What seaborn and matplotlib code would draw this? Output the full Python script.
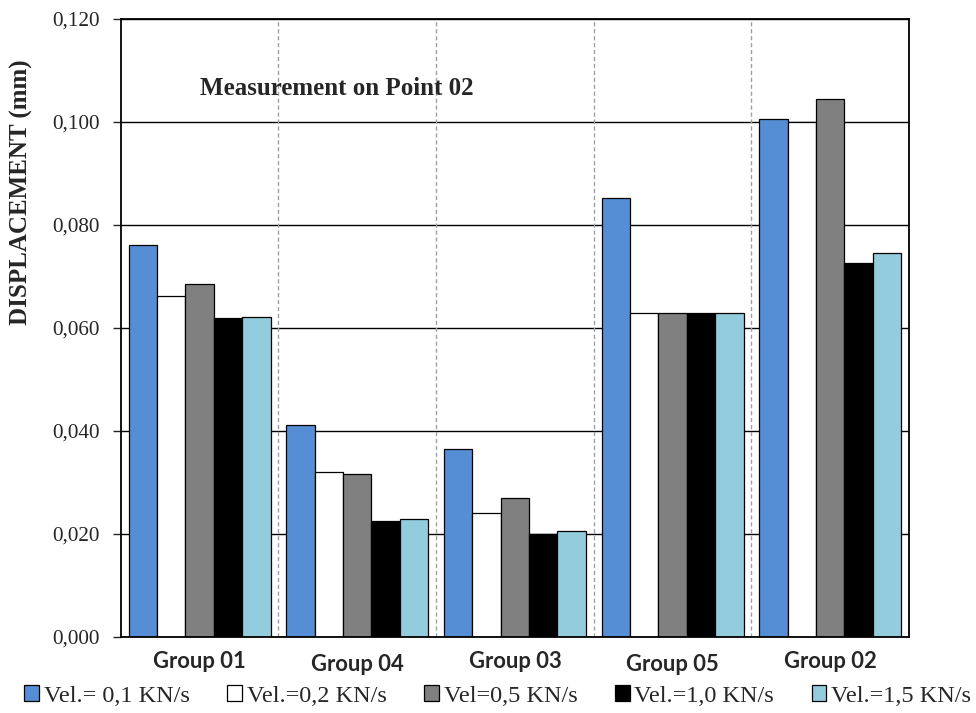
import pandas as pd
import matplotlib
matplotlib.use("Agg")
import matplotlib.pyplot as plt
from matplotlib.ticker import FuncFormatter, MultipleLocator
import seaborn as sns

# data
groups = ["Group 01", "Group 04", "Group 03", "Group 05", "Group 02"]
velocities = ["Vel.= 0,1 KN/s", "Vel.=0,2 KN/s", "Vel=0,5 KN/s", "Vel.=1,0 KN/s", "Vel.=1,5 KN/s"]
vel_01 = [0.0761, 0.0412, 0.0365, 0.0852, 0.1006]
vel_02 = [0.0663, 0.0321, 0.0240, 0.0630, 0.1000]
vel_05 = [0.0685, 0.0316, 0.0270, 0.0630, 0.1045]
vel_10 = [0.0620, 0.0225, 0.0200, 0.0630, 0.0727]
vel_15 = [0.0621, 0.0230, 0.0205, 0.0630, 0.0745]
colors = ["#558ED5", "#FFFFFF", "#808080", "#000000", "#93CDDD"]

rows = []
for vel, vals in zip(velocities, [vel_01, vel_02, vel_05, vel_10, vel_15]):
    for g, v in zip(groups, vals):
        rows.append({"Group": g, "Velocity": vel, "Displacement": v})
df = pd.DataFrame(rows)

sns.set_style("white")
plt.rcParams["font.family"] = ["Liberation Serif", "DejaVu Serif"]

fig = plt.figure(figsize=(9.76, 7.13), dpi=100)
ax = fig.add_axes([0.1237, 0.1066, 0.8077, 0.8668])

sns.barplot(data=df, x="Group", y="Displacement", hue="Velocity", order=groups,
            hue_order=velocities, palette=colors, saturation=1, width=0.9,
            edgecolor="black", linewidth=0.9, ax=ax, legend=False)

ax.set_xlim(-0.5, 4.5)
ax.set_ylim(0, 0.12)
ax.yaxis.set_major_locator(MultipleLocator(0.02))
ax.yaxis.set_major_formatter(FuncFormatter(lambda v, p: f"{v:.3f}".replace(".", ",")))

# gridlines
ax.set_axisbelow(True)
ax.yaxis.grid(True, color="black", linewidth=1.0)
for xv in [0.5, 1.5, 2.5, 3.5]:
    ax.axvline(xv, color="#A0A0A0", linestyle=(0, (3, 2)), linewidth=1.0, zorder=0.7)

for s in ax.spines.values():
    s.set_color("black")
    s.set_linewidth(1.3)

ax.tick_params(axis="y", direction="out", length=6, width=1, pad=9, labelsize=15.3, left=True)
ax.tick_params(axis="x", length=0, labelsize=15.8)
for i, t in enumerate(ax.xaxis.get_major_ticks()):
    t.set_pad(10 if i % 2 == 0 else 12.5)
for lab in ax.get_xticklabels():
    lab.set_fontfamily(["Lato", "DejaVu Sans"])
    lab.set_fontweight("bold")

ax.set_xlabel("")
ax.set_ylabel("DISPLACEMENT (mm)", fontsize=18, fontweight="bold")
ax.yaxis.set_label_coords(-0.111, 0.72)

ax.text(0.1, 0.888, "Measurement on Point 02", transform=ax.transAxes,
        fontsize=18, fontweight="bold", va="center", ha="left")

# legend at the bottom
handles = [plt.Rectangle((0, 0), 1, 1, facecolor=c, edgecolor="black", linewidth=0.9) for c in colors]
fig.legend(handles, velocities, loc="center", bbox_to_anchor=(0.51, 0.024), ncol=5,
           frameon=False, fontsize=17.5, handlelength=0.6, handleheight=0.6,
           handletextpad=0.2, columnspacing=1.55, borderaxespad=0)

fig.savefig("out.png", dpi=100)
